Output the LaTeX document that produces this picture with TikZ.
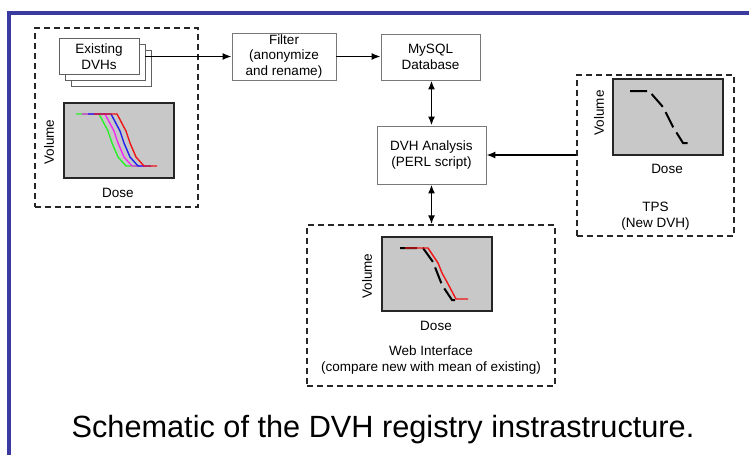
\documentclass[tikz,border=0pt]{standalone}
\usepackage{fontspec}
\setmainfont{Liberation Sans}
\usetikzlibrary{arrows.meta}
\definecolor{frameblue}{RGB}{58,58,160}
\definecolor{plotgray}{RGB}{200,200,200}
\definecolor{boxgray}{RGB}{120,120,120}
\definecolor{dvhgreen}{RGB}{40,240,40}
\definecolor{dvhmagenta}{RGB}{240,40,240}
\definecolor{dvhblue}{RGB}{30,30,240}
\definecolor{dvhred}{RGB}{240,20,20}
\begin{document}
\begin{tikzpicture}[x=1pt,y=-1pt,
  lab/.style={font=\fontsize{13.5}{15.5}\selectfont, align=center, inner sep=0pt},
  sbox/.style={draw=boxgray, line width=0.9pt, fill=white, lab},
  card/.style={draw=boxgray!80!black, line width=0.9pt, fill=white, minimum width=80pt, minimum height=36pt, lab},
  dbox/.style={draw=black!85, dash pattern=on 6pt off 4pt, line width=1.3pt, inner sep=0pt},
  plotbox/.style={draw=black!85, fill=plotgray, line width=1.4pt, minimum width=110pt, inner sep=0pt},
  arr/.style={line width=1.4pt, -{Latex[length=9pt,width=7pt]}},
  darr/.style={line width=1.8pt, {Latex[length=9pt,width=7pt]}-{Latex[length=9pt,width=7pt]}},
  curve/.style={line width=1.4pt, line join=round},
  dcurve/.style={line width=2pt, dash pattern=on 17pt off 6pt},
]
\useasboundingbox (0,0) rectangle (749,455);
\fill[white] (0,0) rectangle (749,455);
% blue frame
\draw[frameblue, line width=3.2pt] (9,455) -- (9,13) -- (749,13);

% left group
\node[dbox, minimum width=163pt, minimum height=179pt] (leftgrp) at (116.5,117.5) {};
\node[card] (card3) at (111,68) {};
\node[card] (card2) at (105,62) {};
\node[card] (card1) at (99,56.5) {Existing\\DVHs};
\node[plotbox, minimum height=75pt] (p1) at (119,140.5) {};
\node[lab, rotate=90] (v1) at (49,142) {Volume};
\node[lab] (d1) at (118,193) {Dose};
\foreach \dx/\col in {0/dvhgreen,6/dvhmagenta,12/dvhblue,18/dvhred}
  \draw[curve, \col, shift={(\dx,0)}] (76,114) -- (99,114) -- (108,131) -- (112,143) -- (118,157) -- (126,166) -- (139,166);

% filter, database, analysis
\node[sbox, minimum width=104pt, minimum height=47pt] (filter) at (284,56.5) {Filter\\(anonymize\\and rename)};
\node[sbox, minimum width=99pt, minimum height=46pt] (mysql) at (430.5,57) {MySQL\\Database};
\node[sbox, minimum width=109pt, minimum height=58pt] (dvh) at (431.5,155) {DVH Analysis\\(PERL script)};

% TPS group
\node[dbox, minimum width=157pt, minimum height=161pt] (tps) at (655.5,155.5) {};
\node[plotbox, minimum height=76pt] (p2) at (668,117) {};
\node[lab, rotate=90] (v2) at (599,113) {Volume};
\node[lab] (d2) at (667,169) {Dose};
\node[lab] (tpslab) at (655.5,216) {TPS\\(New DVH)};
\draw[dcurve] (630,91) -- (649,91) -- (663,107) -- (673,127) -- (683,143) -- (689,143);

% Web group
\node[dbox, minimum width=248pt, minimum height=161pt] (web) at (431,305.5) {};
\node[plotbox, minimum height=74pt] (p3) at (437,274) {};
\node[lab, rotate=90] (v3) at (367,276) {Volume};
\node[lab] (d3) at (436,326) {Dose};
\node[lab] (weblab) at (431,360) {Web Interface\\(compare new with mean of existing)};
\draw[dcurve] (400,248) -- (423,248) -- (433,262) -- (442,285) -- (452,300) -- (456,300);
\draw[curve, dvhred] (405,248) -- (428,248) -- (438,263) -- (442,273) -- (447,282) -- (456,299) -- (468,299);

% connectors
\draw[arr] (card2.east |- card1.east) -- (filter.west);
\draw[arr] (filter.east) -- (filter.east -| mysql.west);
\draw[darr] (mysql.south -| dvh.north) -- (dvh.north);
\draw[arr] (tps.west |- dvh.east) -- (dvh.east);
\draw[darr] (dvh.south) -- (dvh.south |- web.north);

% caption
\node[font=\fontsize{30.7}{36}\selectfont, anchor=base, inner sep=0pt] (caption) at (383,437) {Schematic of the DVH registry instrastructure.};
\end{tikzpicture}
\end{document}
